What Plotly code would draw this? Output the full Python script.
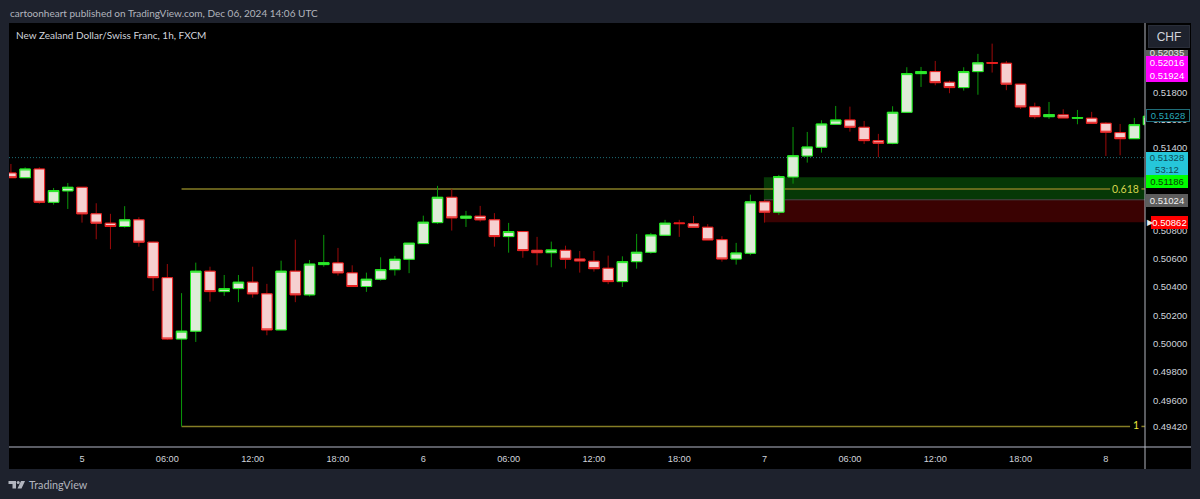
import numpy as np
import plotly.graph_objects as go

# NZDCHF 1h candles. Hours are counted from Dec 5 00:00
hours = list(range(-5, 76))
opens = [0.51217, 0.51183, 0.51246, 0.51006, 0.51088, 0.51114, 0.50923, 0.50856, 0.50832,
         0.50880, 0.50720, 0.50467, 0.50033, 0.50088, 0.50513, 0.50368, 0.50389, 0.50435,
         0.50352, 0.50097, 0.50513, 0.50345, 0.50560, 0.50572, 0.50501, 0.50404, 0.50456,
         0.50524, 0.50598, 0.50710, 0.50860, 0.51042, 0.50892, 0.50906, 0.50880, 0.50760,
         0.50796, 0.50662, 0.50645, 0.50662, 0.50600, 0.50584, 0.50534, 0.50439, 0.50581,
         0.50648, 0.50770, 0.50858, 0.50851, 0.50827, 0.50738, 0.50600, 0.50641, 0.51009,
         0.50935, 0.51188, 0.51340, 0.51403, 0.51570, 0.51601, 0.51548, 0.51451, 0.51432,
         0.51657, 0.51939, 0.51954, 0.51876, 0.51837, 0.51954, 0.52020, 0.52015, 0.51862,
         0.51696, 0.51625, 0.51638, 0.51614, 0.51614, 0.51577, 0.51509, 0.51465, 0.51567]
highs = [0.51282, 0.51258, 0.51258, 0.51109, 0.51145, 0.51114, 0.50999, 0.50923, 0.50978,
         0.50899, 0.50724, 0.50564, 0.50357, 0.50574, 0.50545, 0.50486, 0.50486, 0.50545,
         0.50423, 0.50588, 0.50738, 0.50593, 0.50772, 0.50679, 0.50555, 0.50503, 0.50612,
         0.50622, 0.50713, 0.50910, 0.51124, 0.51102, 0.50944, 0.50980, 0.50928, 0.50858,
         0.50796, 0.50758, 0.50724, 0.50695, 0.50657, 0.50657, 0.50624, 0.50619, 0.50779,
         0.50786, 0.50880, 0.50880, 0.50908, 0.50849, 0.50763, 0.50715, 0.51061, 0.51023,
         0.51203, 0.51550, 0.51514, 0.51599, 0.51703, 0.51698, 0.51594, 0.51500, 0.51701,
         0.51986, 0.51988, 0.52032, 0.51888, 0.51986, 0.52084, 0.52159, 0.52032, 0.51862,
         0.51727, 0.51732, 0.51679, 0.51674, 0.51660, 0.51585, 0.51572, 0.51616, 0.51640]
lows = [0.51183, 0.51183, 0.50996, 0.50989, 0.50958, 0.50860, 0.50741, 0.50670, 0.50824,
        0.50688, 0.50373, 0.50026, 0.49420, 0.50012, 0.50297, 0.50338, 0.50293, 0.50325,
        0.50059, 0.50097, 0.50293, 0.50333, 0.50545, 0.50482, 0.50404, 0.50366, 0.50446,
        0.50482, 0.50499, 0.50710, 0.50851, 0.50803, 0.50829, 0.50867, 0.50688, 0.50645,
        0.50609, 0.50555, 0.50541, 0.50531, 0.50503, 0.50510, 0.50421, 0.50401, 0.50531,
        0.50638, 0.50770, 0.50758, 0.50827, 0.50736, 0.50581, 0.50560, 0.50627, 0.50860,
        0.50915, 0.51140, 0.51292, 0.51364, 0.51570, 0.51516, 0.51427, 0.51331, 0.51425,
        0.51657, 0.51842, 0.51854, 0.51796, 0.51815, 0.51785, 0.51947, 0.51818, 0.51681,
        0.51609, 0.51609, 0.51616, 0.51570, 0.51577, 0.51340, 0.51345, 0.51465, 0.51560]
closes = [0.51183, 0.51246, 0.51006, 0.51090, 0.51114, 0.50923, 0.50856, 0.50832, 0.50880,
          0.50720, 0.50467, 0.50033, 0.50088, 0.50513, 0.50368, 0.50389, 0.50435, 0.50352,
          0.50097, 0.50513, 0.50345, 0.50564, 0.50574, 0.50501, 0.50404, 0.50456, 0.50524,
          0.50598, 0.50713, 0.50863, 0.51042, 0.50894, 0.50906, 0.50880, 0.50760, 0.50796,
          0.50660, 0.50645, 0.50665, 0.50598, 0.50586, 0.50531, 0.50439, 0.50581, 0.50648,
          0.50772, 0.50856, 0.50853, 0.50827, 0.50736, 0.50600, 0.50643, 0.51009, 0.50935,
          0.51191, 0.51342, 0.51405, 0.51572, 0.51601, 0.51548, 0.51451, 0.51432, 0.51657,
          0.51939, 0.51954, 0.51873, 0.51837, 0.51954, 0.52018, 0.52015, 0.51862, 0.51696,
          0.51625, 0.51640, 0.51616, 0.51618, 0.51577, 0.51512, 0.51465, 0.51567, 0.51628]

price_ticks = [0.518, 0.516, 0.514, 0.508, 0.506, 0.504, 0.502, 0.500, 0.498, 0.496, 0.4942]
time_ticks = [0, 6, 12, 18, 24, 30, 36, 42, 48, 54, 60, 66, 72]
time_labels = ['5', '06:00', '12:00', '18:00', '6', '06:00', '12:00', '18:00',
               '7', '06:00', '12:00', '18:00', '8']

last_price = 0.51328
fib_618 = 0.51102
fib_1 = 0.49420
zone_top = 0.51186
zone_mid = 0.51024
zone_low = 0.50862

FONT = 'Liberation Sans'
LABEL_FONT = 'Lato'
TEXT = '#d1d4dc'
BG = '#1e222d'


# pixel position to paper coordinates (plot area is x 9-1145, y 23-447)
def pxx(x):
    return (x - 9) / 1136


def pxy(y):
    return 1 - (y - 23) / 424


fig = go.Figure()

# wicks are darker than the body outlines, so they get their own trace
fig.add_trace(go.Candlestick(
    x=hours, open=opens, high=highs, low=lows, close=closes,
    increasing=dict(line=dict(color='#0a9a0a', width=1), fillcolor='#deecd8'),
    decreasing=dict(line=dict(color='#9c0a0a', width=1), fillcolor='#f6d0d0'),
    whiskerwidth=0, hoverinfo='skip'))
fig.add_trace(go.Candlestick(
    x=hours, open=opens, close=closes,
    high=[max(a, b) for a, b in zip(opens, closes)],
    low=[min(a, b) for a, b in zip(opens, closes)],
    increasing=dict(line=dict(color='#1ee81e', width=1), fillcolor='#deecd8'),
    decreasing=dict(line=dict(color='#e81c1c', width=1), fillcolor='#f6d0d0'),
    whiskerwidth=0, hoverinfo='skip'))

shapes = [
    # black chart panel, axes included
    dict(type='rect', xref='paper', yref='paper', x0=pxx(9), x1=pxx(1191), y0=pxy(469), y1=pxy(23),
         fillcolor='#000000', line_width=0, layer='below'),
    # order block zones
    dict(type='rect', xref='x', yref='y', x0=47.95, x1=74.75, y0=zone_mid, y1=zone_top,
         fillcolor='#063806', line_width=0, layer='below'),
    dict(type='rect', xref='x', yref='y', x0=47.95, x1=74.75, y0=zone_low, y1=zone_mid,
         fillcolor='#3a0202', line_width=0, layer='below'),
    dict(type='line', xref='x', yref='y', x0=47.95, x1=74.75, y0=zone_mid, y1=zone_mid,
         line=dict(color='#4a4a4a', width=1), layer='below'),
    # last price
    dict(type='line', xref='paper', yref='y', x0=0, x1=1, y0=last_price, y1=last_price,
         line=dict(color='#1f6d78', width=1, dash='1px,2px'), layer='below'),
    # fib levels, split around their labels
    dict(type='line', xref='x', yref='y', x0=7, x1=72.3, y0=fib_618, y1=fib_618,
         line=dict(color='#857d25', width=1.5), layer='below'),
    dict(type='line', xref='x', yref='y', x0=74.5, x1=74.75, y0=fib_618, y1=fib_618,
         line=dict(color='#857d25', width=1.5), layer='below'),
    dict(type='line', xref='x', yref='y', x0=7, x1=73.7, y0=fib_1, y1=fib_1,
         line=dict(color='#857d25', width=1.5), layer='below'),
    dict(type='line', xref='x', yref='y', x0=74.5, x1=74.75, y0=fib_1, y1=fib_1,
         line=dict(color='#857d25', width=1.5), layer='below'),
    # axis borders
    dict(type='line', xref='paper', yref='paper', x0=pxx(9), x1=pxx(1191), y0=pxy(447), y1=pxy(447),
         line=dict(color='#787b86', width=1.5)),
    dict(type='line', xref='paper', yref='paper', x0=pxx(1145), x1=pxx(1145), y0=pxy(469), y1=pxy(23),
         line=dict(color='#b2b5be', width=1)),
]


# TradingView logo
def logo_path(points):
    return 'M' + 'L'.join(f'{pxx(a)},{pxy(b)}' for a, b in points) + 'Z'


for pts in ([(8.5, 481), (16, 481), (16, 488.5), (12.5, 488.5), (12.5, 484), (8.5, 484)],
            [(25, 481), (21.5, 488.5), (17.5, 488.5), (21, 481)]):
    shapes.append(dict(type='path', xref='paper', yref='paper', path=logo_path(pts),
                       fillcolor='#b2b5be', line_width=0))
shapes.append(dict(type='circle', xref='paper', yref='paper', x0=pxx(16.7), x1=pxx(19.7),
                   y0=pxy(484), y1=pxy(481), fillcolor='#b2b5be', line_width=0))

annotations = [
    dict(x=pxx(7.5), y=pxy(13), text='cartoonheart published on TradingView.com, Dec 06, 2024 14:06 UTC',
         xanchor='left', font=dict(size=10, color='#b2b5be', family=LABEL_FONT)),
    dict(x=pxx(14), y=pxy(35), text='New Zealand Dollar/Swiss Franc, 1h, FXCM',
         xanchor='left', font=dict(size=10, color=TEXT, family=LABEL_FONT)),
    dict(x=pxx(27), y=pxy(484.5), text='TradingView', xanchor='left',
         font=dict(size=10.8, color='#b2b5be', family=LABEL_FONT)),
    dict(x=pxx(1125), y=pxy(188.5), text='0.618', xanchor='center',
         font=dict(size=10.5, color='#d4d44c', family=LABEL_FONT)),
    dict(x=pxx(1135.5), y=pxy(424.5), text='1', xanchor='center',
         font=dict(size=10.5, color='#e8e83c', family=LABEL_FONT)),
]


# axis labels on the price scale
def price_label(y, text, bg, color, height=13, left=1146, border=None):
    annotations.append(dict(
        x=pxx(left), y=pxy(y), text=text, xanchor='left', width=1188 - left, height=height,
        bgcolor=bg, borderpad=0, borderwidth=1 if border else 0, bordercolor=border or bg,
        align='center', valign='middle', font=dict(size=9.5, color=color)))


price_label(52, '0.52035', '#5d5d5d', '#e8e8e8', height=11)
price_label(36.5, '', '#000000', '#000000', height=27)
annotations.append(dict(x=pxx(1148), y=pxy(36), text='CHF', xanchor='left', width=40, height=21,
                        bgcolor=BG, bordercolor='#2a2e39', borderwidth=1, borderpad=0,
                        font=dict(size=12, color=TEXT)))
price_label(63, '0.52016', '#ff00ff', '#ffffff')
price_label(75.5, '0.51924', '#ff00ff', '#ffffff')
price_label(116, '0.51628', '#000000', '#26a8b8', height=11, border='#1f6d78')
price_label(163.3, '0.51328<br>53:12', '#26c6da', '#0e4a55', height=23)
price_label(181.3, '0.51186', '#00ff00', '#0a3a0a')
price_label(200.3, '0.51024', '#5d5d5d', '#f0f0f0')
price_label(222.7, '0.50862', '#ff0000', '#ffffff', left=1151)
annotations.append(dict(x=pxx(1145.5), y=pxy(222.7), text='▶', xanchor='left', borderpad=0,
                        font=dict(size=8, color='#e8e8e8', family='DejaVu Sans')))

for a in annotations:
    a.update(xref='paper', yref='paper', showarrow=False, yanchor='middle')

fig.update_layout(
    width=1200, height=499,
    margin=dict(l=9, r=55, t=23, b=52, pad=0),
    paper_bgcolor=BG, plot_bgcolor='rgba(0,0,0,0)',
    font=dict(family=FONT, color=TEXT),
    showlegend=False, boxgap=0.26, boxgroupgap=0,
    shapes=shapes, annotations=annotations,
    xaxis=dict(range=[-5.134, 74.75], rangeslider=dict(visible=False), showgrid=False, zeroline=False,
               tickmode='array', tickvals=time_ticks, ticktext=time_labels, ticks='outside', ticklen=3,
               tickcolor='rgba(0,0,0,0)', tickfont=dict(size=9.2, color=TEXT), showline=False),
    yaxis=dict(type='log', range=[float(np.log10(0.49277)), float(np.log10(0.52311))], side='right',
               showgrid=False, zeroline=False, showline=False,
               tickmode='array', tickvals=price_ticks, ticktext=[f'{v:.5f}' for v in price_ticks],
               ticks='outside', ticklen=5, tickcolor='rgba(0,0,0,0)', tickfont=dict(size=9.5, color=TEXT)),
)

fig.write_html("out.html", config=dict(displayModeBar=False),
               post_script="document.body.style.margin='0';document.body.style.overflow='hidden';")
